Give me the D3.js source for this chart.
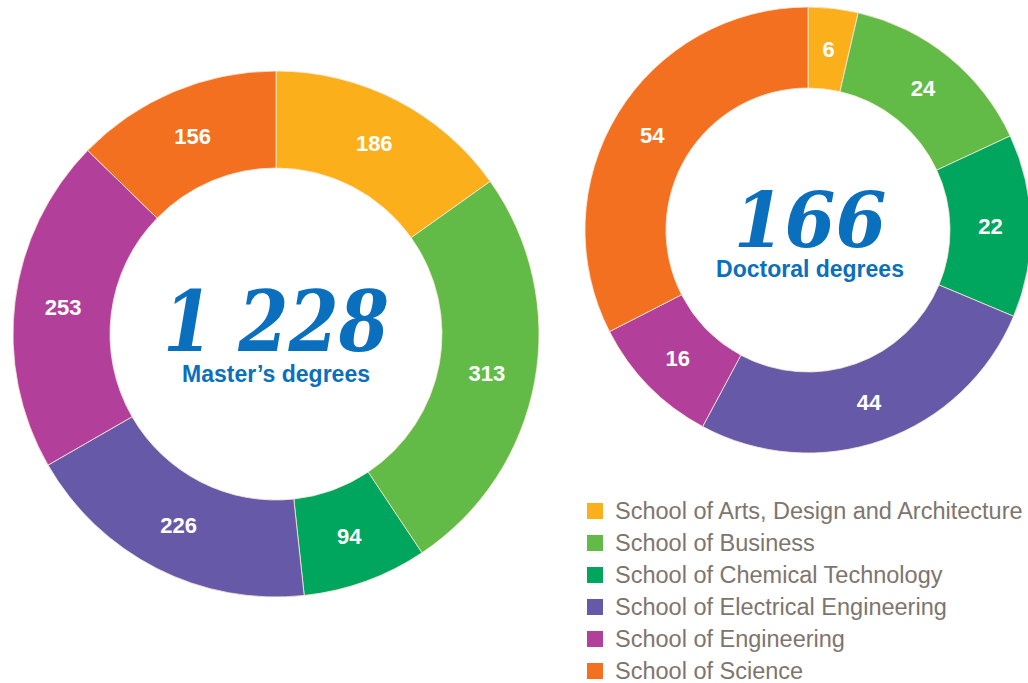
<!DOCTYPE html>
<html>
<head>
<meta charset="utf-8">
<script src="https://cdn.jsdelivr.net/npm/d3@7"></script>
<style>
  body { margin: 0; background: #fff; }
  svg { display: block; }
</style>
</head>
<body>
<div id="chart"></div>
<script>
const schools = ["School of Arts, Design and Architecture", "School of Business", "School of Chemical Technology",
    "School of Electrical Engineering", "School of Engineering", "School of Science"];
const masters = [186, 313, 94, 226, 253, 156];
const doctoral = [6, 24, 22, 44, 16, 54];
const colors = ["#fbb01b", "#62bb46", "#00a65d", "#6659a7", "#b2409a", "#f37021"];

const width = 1028, height = 683;
const blue = "#0a6fbd";

const svg = d3.select("#chart").append("svg")
    .attr("width", width)
    .attr("height", height)
    .style("font-family", "'Liberation Sans', Arial, sans-serif");

const color = d3.scaleOrdinal().domain(schools).range(colors);

function donut(values, cx, cy, rOut, rIn, total, opt) {
    const pie = d3.pie().sort(null).value(d => d.v);
    const arcs = pie(values.map((v, i) => ({name: schools[i], v: v})));
    const arc = d3.arc().innerRadius(rIn).outerRadius(rOut);
    const labelArc = d3.arc().innerRadius((rIn + rOut) / 2).outerRadius((rIn + rOut) / 2);

    const g = svg.append("g").attr("transform", `translate(${cx},${cy})`);
    g.selectAll("path")
        .data(arcs)
        .join("path")
        .attr("d", arc)
        .attr("fill", d => color(d.data.name))
        .attr("stroke", "#fde8d8")
        .attr("stroke-width", 0.8);

    g.selectAll("text.lbl")
        .data(arcs)
        .join("text")
        .attr("class", "lbl")
        .attr("transform", d => `translate(${labelArc.centroid(d)})`)
        .attr("text-anchor", "middle")
        .attr("dy", "0.36em")
        .attr("fill", "#fff")
        .attr("font-weight", "bold")
        .attr("font-size", 22)
        .text(d => d.data.v);

    // big total, squeezed a bit to look like a condensed slab face
    g.append("text")
        .attr("text-anchor", "middle")
        .attr("transform", `translate(${opt.bigX},${opt.bigY}) scale(${opt.sx},1)`)
        .attr("fill", blue)
        .attr("font-family", "'DejaVu Serif', serif")
        .attr("font-weight", "bold")
        .attr("font-style", "italic")
        .attr("font-size", opt.bigSize)
        .text(total);

    g.append("text")
        .attr("text-anchor", "middle")
        .attr("x", opt.capX)
        .attr("y", opt.capY)
        .attr("fill", blue)
        .attr("font-weight", "bold")
        .attr("font-size", 23)
        .text(opt.text);
}

donut(masters, 276, 334, 263, 166, "1 228",
    {text: "Master\u2019s degrees", capX: 0, capY: 48, bigX: 0, bigY: 17, bigSize: 85, sx: 0.85});
donut(doctoral, 808, 230, 223, 142, "166",
    {text: "Doctoral degrees", capX: 2, capY: 47, bigX: 2, bigY: 17, bigSize: 77, sx: 0.95});

// legend
const legend = svg.append("g").attr("transform", "translate(587,511)");
const row = legend.selectAll("g")
    .data(schools)
    .join("g")
    .attr("transform", (d, i) => `translate(0,${i * 32})`);
row.append("rect")
    .attr("y", -8)
    .attr("width", 16)
    .attr("height", 16)
    .attr("fill", d => color(d));
row.append("text")
    .attr("x", 28)
    .attr("dy", "0.36em")
    .attr("fill", "#7d756e")
    .attr("font-size", 23.5)
    .text(d => d);
</script>
</body>
</html>
